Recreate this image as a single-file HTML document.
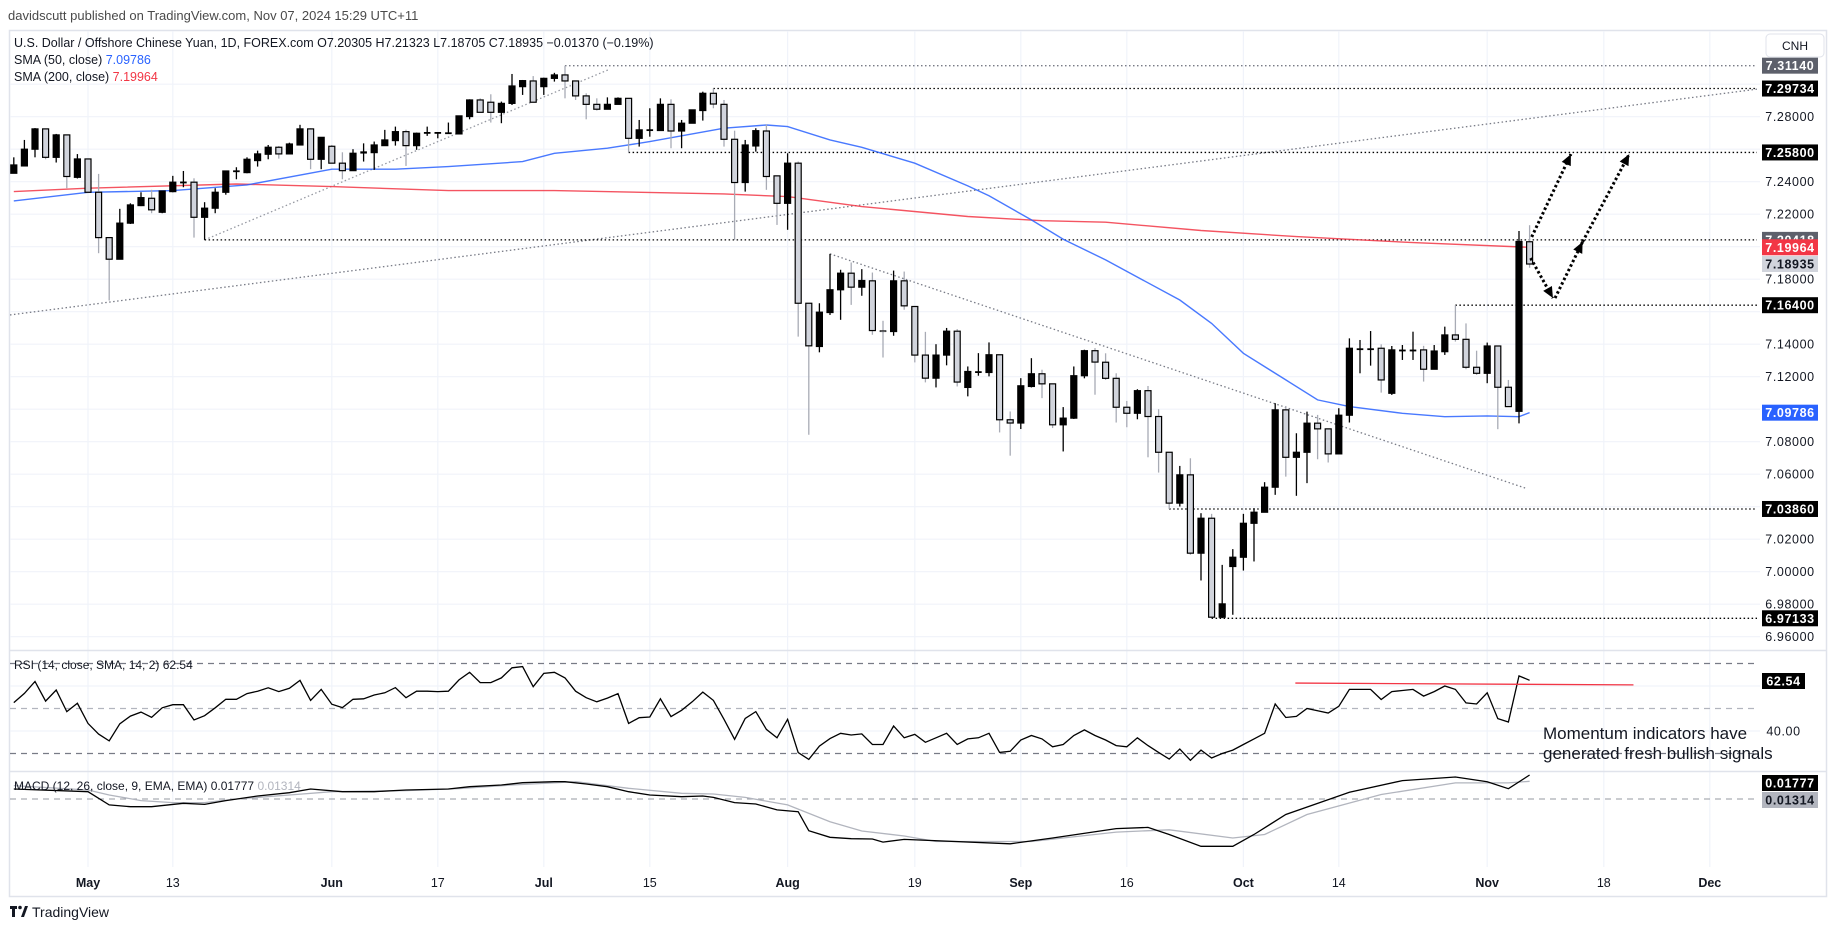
<!DOCTYPE html>
<html>
<head>
<meta charset="utf-8">
<style>
html,body{margin:0;padding:0;background:#fff;}
body{width:1835px;height:931px;overflow:hidden;font-family:"Liberation Sans",sans-serif;}
svg text{font-family:"Liberation Sans",sans-serif;}
</style>
</head>
<body>
<svg id="chart" width="1835" height="931" viewBox="0 0 1835 931" xmlns="http://www.w3.org/2000/svg">
  <defs>
    <clipPath id="mainClip"><rect x="10" y="31" width="1747" height="619"/></clipPath>
    <clipPath id="rsiClip"><rect x="10" y="651" width="1747" height="119"/></clipPath>
    <clipPath id="macdClip"><rect x="10" y="772" width="1747" height="95"/></clipPath>
  </defs>
  <text x="8" y="20" font-size="13" fill="#4a4a4a">davidscutt published on TradingView.com, Nov 07, 2024 15:29 UTC+11</text>
  <rect x="9.5" y="30.5" width="1817" height="866" fill="#fff" stroke="#e0e3eb" stroke-width="1.5"/>
  <g id="grid"></g>
  <g id="panes"></g>
  <g id="main" clip-path="url(#mainClip)"></g>
  <g id="rsi" clip-path="url(#rsiClip)"></g>
  <g id="macd" clip-path="url(#macdClip)"></g>
  <g id="axis"></g>
  <g id="timeaxis"></g>
  <g id="legend">
    <text x="14" y="47" font-size="12.5" fill="#131722">U.S. Dollar / Offshore Chinese Yuan, 1D, FOREX.com  O7.20305  H7.21323  L7.18705  C7.18935  −0.01370 (−0.19%)</text>
    <text x="14" y="64" font-size="12.5" fill="#131722">SMA (50, close) <tspan fill="#2962ff">7.09786</tspan></text>
    <text x="14" y="81" font-size="12.5" fill="#131722">SMA (200, close) <tspan fill="#f23645">7.19964</tspan></text>
    <text x="14" y="669" font-size="12" fill="#131722">RSI (14, close, SMA, 14, 2)  62.54</text>
    <text x="14" y="790" font-size="12" fill="#131722">MACD (12, 26, close, 9, EMA, EMA)  0.01777  <tspan fill="#b2b5be">0.01314</tspan></text>
  </g>
  <g>
    <text x="1543" y="739" font-size="17" fill="#131722">Momentum indicators have</text>
    <text x="1543" y="759" font-size="17" fill="#131722">generated fresh bullish signals</text>
  </g>
  <g>
    <rect x="1766" y="34" width="58" height="23" rx="4" fill="#fff" stroke="#e0e3eb"/>
    <text x="1795" y="50" font-size="12" fill="#131722" text-anchor="middle">CNH</text>
  </g>
  <g>
    <rect x="10" y="906" width="7" height="3" fill="#131722"/>
    <rect x="12" y="906" width="3" height="11" fill="#131722"/>
    <circle cx="20" cy="907.5" r="1.8" fill="#131722"/>
    <path d="M21 917 L25 906 L28 906 L24 917 Z" fill="#131722"/>
    <text x="32" y="917" font-size="14" fill="#131722">TradingView</text>
  </g>
</svg>
<script>
// ---- data ----
const startIndex = -7;
const opens  = [7.2452,7.2497,7.2600,7.2725,7.2550,7.2688,7.2427,7.2540,7.2335,7.2056,7.1923,7.2145,7.2253,7.2298,7.2212,7.2339,7.2397,7.2397,7.2181,7.2237,7.2335,7.2466,7.2456,7.2530,7.2569,7.2612,7.2571,7.2626,7.2725,7.2538,7.2618,7.2514,7.2468,7.2575,7.2579,7.2622,7.2653,7.2708,7.2622,7.2698,7.2704,7.2698,7.2694,7.2801,7.2903,7.2889,7.2827,7.2882,7.2985,7.3020,7.2985,7.3036,7.3057,7.3020,7.2928,7.2876,7.2846,7.2876,7.2913,7.2667,7.2719,7.2715,7.2876,7.2712,7.2760,7.2838,7.2944,7.2876,7.2661,7.2395,7.2620,7.2712,7.2436,7.2267,7.2514,7.1652,7.1386,7.1595,7.1735,7.1837,7.1751,7.1790,7.1484,7.1478,7.1790,7.1632,7.1333,7.1191,7.1333,7.1480,7.1134,7.1232,7.1226,7.1335,7.0935,7.0915,7.1140,7.1218,7.1156,7.0904,7.0945,7.1206,7.1360,7.1289,7.1190,7.1012,7.0975,7.1114,7.0955,7.0735,7.0422,7.0596,7.0114,7.0329,6.9720,7.0032,7.0089,7.0298,7.0366,7.0520,7.0996,7.0704,7.0735,7.0914,7.0879,7.0725,7.0963,7.1371,7.1371,7.1375,7.1098,7.1365,7.1365,7.1365,7.1246,7.1354,7.1457,7.1430,7.1258,7.1221,7.1389,7.1135,7.0987,7.20305];
const highs  = [7.2550,7.2657,7.2730,7.2725,7.2694,7.2688,7.2570,7.2540,7.2448,7.2056,7.2233,7.2267,7.2335,7.2350,7.2343,7.2436,7.2466,7.2421,7.2274,7.2360,7.2466,7.2489,7.2550,7.2591,7.2626,7.2620,7.2640,7.2750,7.2729,7.2673,7.2626,7.2581,7.2600,7.2636,7.2647,7.2719,7.2739,7.2720,7.2702,7.2739,7.2706,7.2764,7.2805,7.2907,7.2913,7.2938,7.2893,7.3063,7.3026,7.3050,7.3040,7.3070,7.3114,7.3020,7.2944,7.2913,7.2919,7.2919,7.2913,7.2780,7.2852,7.2913,7.2907,7.2780,7.2842,7.2954,7.2973,7.2903,7.2714,7.2657,7.2729,7.2753,7.2436,7.2575,7.2524,7.1652,7.1652,7.1956,7.1858,7.1903,7.1862,7.1841,7.1544,7.1853,7.1847,7.1632,7.1476,7.1400,7.1500,7.1493,7.1263,7.1345,7.1411,7.1335,7.0986,7.1191,7.1314,7.1243,7.1156,7.1013,7.1263,7.1366,7.1376,7.1344,7.1221,7.1051,7.1123,7.1143,7.1000,7.0735,7.0651,7.0698,7.0360,7.0356,7.0042,7.0139,7.0356,7.0391,7.0551,7.1037,7.1020,7.0852,7.0985,7.0965,7.0879,7.1006,7.1436,7.1426,7.1481,7.1399,7.1389,7.1395,7.1477,7.1390,7.1395,7.1508,7.1640,7.1528,7.1360,7.1410,7.1389,7.1180,7.2097,7.21323];
const lows   = [7.2452,7.2497,7.2550,7.2538,7.2518,7.2360,7.2420,7.2330,7.1960,7.1669,7.1923,7.2140,7.2250,7.2206,7.2206,7.2335,7.2366,7.2056,7.2042,7.2206,7.2320,7.2415,7.2452,7.2493,7.2538,7.2542,7.2568,7.2626,7.2477,7.2477,7.2514,7.2415,7.2468,7.2524,7.2473,7.2622,7.2622,7.2497,7.2596,7.2682,7.2667,7.2694,7.2694,7.2784,7.2827,7.2764,7.2760,7.2872,7.2934,7.2889,7.2934,7.3016,7.2913,7.2903,7.2784,7.2838,7.2846,7.2876,7.2580,7.2616,7.2677,7.2715,7.2606,7.2606,7.2760,7.2776,7.2852,7.2616,7.2042,7.2339,7.2585,7.2350,7.2134,7.2104,7.1447,7.0843,7.1350,7.1580,7.1550,7.1642,7.1698,7.1458,7.1318,7.1452,7.1612,7.1288,7.1165,7.1134,7.1270,7.1140,7.1079,7.1206,7.1202,7.0857,7.0714,7.0878,7.1134,7.1068,7.0884,7.0740,7.0940,7.1190,7.1089,7.1180,7.0918,7.0889,7.0938,7.0704,7.0610,7.0386,7.0401,7.0104,6.9946,6.9713,6.9714,6.9735,7.0007,7.0063,7.0366,7.0473,7.0585,7.0467,7.0545,7.0692,7.0672,7.0725,7.0918,7.1221,7.1268,7.1102,7.1088,7.1303,7.1303,7.1170,7.1246,7.1334,7.1416,7.1246,7.1211,7.1160,7.0877,7.1016,7.0913,7.18705];
const closes = [7.2503,7.2600,7.2725,7.2550,7.2688,7.2432,7.2540,7.2335,7.2056,7.1923,7.2145,7.2257,7.2302,7.2227,7.2343,7.2397,7.2399,7.2181,7.2237,7.2335,7.2466,7.2468,7.2538,7.2571,7.2612,7.2571,7.2632,7.2725,7.2538,7.2673,7.2514,7.2468,7.2575,7.2585,7.2626,7.2657,7.2708,7.2622,7.2698,7.2704,7.2704,7.2702,7.2805,7.2903,7.2827,7.2827,7.2882,7.2989,7.3022,7.2889,7.3036,7.3057,7.3020,7.2928,7.2876,7.2846,7.2876,7.2913,7.2667,7.2719,7.2721,7.2876,7.2712,7.2760,7.2842,7.2944,7.2878,7.2661,7.2395,7.2626,7.2714,7.2432,7.2267,7.2514,7.1652,7.1390,7.1597,7.1735,7.1837,7.1751,7.1792,7.1484,7.1478,7.1790,7.1636,7.1333,7.1191,7.1333,7.1480,7.1167,7.1232,7.1232,7.1335,7.0935,7.0915,7.1144,7.1218,7.1156,7.0904,7.0945,7.1206,7.1360,7.1290,7.1190,7.1012,7.0975,7.1114,7.0955,7.0735,7.0422,7.0596,7.0114,7.0329,6.9720,6.9802,7.0089,7.0298,7.0366,7.0520,7.0996,7.0704,7.0735,7.0914,7.0879,7.0725,7.0963,7.1375,7.1373,7.1373,7.1180,7.1365,7.1365,7.1365,7.1246,7.1358,7.1457,7.1430,7.1258,7.1221,7.1389,7.1135,7.1016,7.2032,7.18935];
const sma50Idx = [-7,0,8,15,23,29,34,41,44,49,53,60,64,66,70,73,78,83,85,89,92,96,103,106,109,113,116,119,124,128,132,135,136];
const sma50Val = [7.2282,7.2335,7.2345,7.2380,7.2477,7.2477,7.2493,7.2524,7.2575,7.2606,7.2647,7.2729,7.2749,7.2739,7.2657,7.2612,7.2514,7.2374,7.2313,7.2165,7.2046,7.1919,7.1672,7.1528,7.1344,7.1180,7.1057,7.1016,7.0975,7.0954,7.0959,7.0954,7.0979];
const sma200Idx = [-7,0,14,23,34,44,60,66,73,83,90,96,105,114,125,136];
const sma200Val = [7.2339,7.2360,7.2386,7.2370,7.2345,7.2345,7.2325,7.2308,7.2247,7.2186,7.2160,7.2151,7.2100,7.2062,7.2025,7.1996];
const rsiVals = [52.6,56.7,62,53.3,58.2,48.6,52.3,43.4,38.6,35.6,43.2,46.6,48.4,46.1,50.3,51.7,51.7,44.9,46.8,50.3,54.1,54.1,56.6,57.7,59.2,57.5,59,62.5,53.6,58.5,51.9,50.4,54.1,54.3,56,57,59.3,54.8,57.7,57.7,57.5,57.7,62.7,66.1,61.5,61.5,63.6,68.1,68.6,59.7,65.6,66.1,63.6,57.7,54.8,53,54.6,56.6,43.4,45.9,46.2,54.3,46.4,49.2,53,57.3,53.6,45.2,36.3,45.6,48.6,40.7,37,45.2,30.4,27.4,33.3,36.6,39,38.2,38.7,34,34,42.2,37,38.5,35,37,39,34,36.5,37,39,30.5,31,36,38,36.5,33,34,38,40.5,38,36,33.5,33,37,33.5,30.5,27.5,32,27,31.5,28,30,31.5,34,36.5,39,52,46,46.5,50,49,48,51,58.5,58.5,58.5,54,57.5,58,58.5,55.5,57.5,60,58.5,52.5,52,57,45.5,44,64.5,62.54];
const macdIdx = [-7,0,2,4,6,9,11,13,16,19,21,24,27,30,34,36,39,41,44,45,47,49,51,53,56,58,59,61,63,65,67,68,70,72,74,75,77,87,91,97,100,102,105,108,110,113,119,124,129,132,134,136];
const macdVal = [0.0074,0.0054,-0.0044,-0.0057,-0.0057,-0.0032,-0.0040,-0.0012,0.0022,0.0047,0.0074,0.0054,0.0054,0.0067,0.0074,0.0091,0.0104,0.0121,0.0128,0.0128,0.0111,0.0091,0.0054,0.0030,0.0017,0.0022,0.0012,-0.0027,-0.0037,-0.0081,-0.0094,-0.0235,-0.0284,-0.0294,-0.0296,-0.0319,-0.0299,-0.0332,-0.0289,-0.0219,-0.0210,-0.0263,-0.0350,-0.0350,-0.0263,-0.0115,0.0050,0.0136,0.0163,0.0128,0.0076,0.0178];
const signalIdx = [-7,0,2,5,8,11,14,19,23,30,35,40,46,51,56,59,62,66,70,73,77,80,89,97,102,108,111,115,122,129,134,136];
const signalVal = [0.0099,0.0067,0.0030,-0.0012,-0.0027,-0.0027,0.0000,0.0030,0.0054,0.0062,0.0077,0.0104,0.0128,0.0079,0.0042,0.0037,0.0012,-0.0044,-0.0168,-0.0237,-0.0274,-0.0315,-0.0315,-0.0245,-0.0228,-0.0289,-0.0263,-0.0115,0.0033,0.0119,0.0119,0.0131];
const priceTicks = [7.28,7.24,7.22,7.18,7.14,7.12,7.08,7.06,7.02,7.00,6.98,6.96];
const gridPrices = [7.30,7.28,7.26,7.24,7.22,7.20,7.18,7.16,7.14,7.12,7.10,7.08,7.06,7.04,7.02,7.00,6.98,6.96];
const timeLabels = ["May","13","Jun","17","Jul","15","Aug","19","Sep","16","Oct","14","Nov","18","Dec"];
const timeIdx = [0,8,23,33,43,53,66,78,88,98,109,118,132,143,153];
const timeIsMonth = [true,false,true,false,true,false,true,false,true,false,true,false,true,false,true];
const levelPrices = [7.3114,7.29734,7.258,7.2042,7.164,7.0386,6.97133];
const levelStart = [45,59,51,11,129,102,106];
const priceLabels = ["7.31140","7.29734","7.25800","7.20418","7.19964","7.18935","7.16400","7.09786","7.03860","6.97133"];
const priceLabelVals = [7.3114,7.29734,7.258,7.2042,7.19964,7.18935,7.164,7.09786,7.0386,6.97133];
const priceLabelBg = ["#5d606b","#000","#000","#5d606b","#f23645","#d1d4dc","#000","#2962ff","#000","#000"];
const priceLabelFg = ["#fff","#fff","#fff","#fff","#fff","#131722","#fff","#fff","#fff","#fff"];

// ---- scales ----
const NS = "http://www.w3.org/2000/svg";
const X = i => 88 + 10.6 * i;
const YP = p => 246.7 - (p - 7.2) * 1625;
const YR = v => 708.5 - (v - 50) * 2.25;
const YM = v => 799 - v * 1350;
function mk(parent, tag, attrs) {
  const e = document.createElementNS(NS, tag);
  for (const k in attrs) e.setAttribute(k, attrs[k]);
  parent.appendChild(e);
  return e;
}
const gGrid = document.getElementById('grid');
const gMain = document.getElementById('main');
const gRsi = document.getElementById('rsi');
const gMacd = document.getElementById('macd');
const gAxis = document.getElementById('axis');
const gTime = document.getElementById('timeaxis');
const gPanes = document.getElementById('panes');

// grid
gridPrices.forEach(p => {
  const l = mk(gGrid, 'line', {x1: 10, x2: 1760, y1: YP(p), y2: YP(p), stroke: '#f0f3fa', 'stroke-width': 1.2});
  
  
});
[60, 40].forEach(v => {
  const l = mk(gGrid, 'line', {x1: 10, x2: 1760, y1: YR(v), y2: YR(v), stroke: '#f0f3fa', 'stroke-width': 1.2});
  
  
});
timeIdx.forEach((ti, k) => {
  const l = mk(gGrid, 'line', {x1: X(ti), x2: X(ti), y1: 31, y2: 867, stroke: '#f0f3fa', 'stroke-width': 1.2});
  
  
  const t = mk(gTime, 'text', {x: X(ti), y: 887, 'font-size': 12.5, 'text-anchor': 'middle', fill: '#131722', 'font-weight': timeIsMonth[k] ? 'bold' : 'normal'});
  t.textContent = timeLabels[k];
  
  
});
[650.5, 771.5].forEach(y => {
  const l = mk(gPanes, 'line', {x1: 10, x2: 1826, y1: y, y2: y, stroke: '#e0e3eb', 'stroke-width': 1.5});
  
  
});

// trend lines
function tline(i1, p1, i2, p2, color, name) {
  const l = mk(gMain, 'line', {x1: X(i1), y1: YP(p1), x2: X(i2), y2: YP(p2), stroke: color, 'stroke-width': 1.3, 'stroke-dasharray': '1.5 2.5'});
  
  
}
tline(-7.36, 7.158, 157.5, 7.297, '#787b86', 'long-support-trendline');
tline(11, 7.2042, 49.06, 7.3088, '#9598a1', 'short-rising-trendline');
tline(70, 7.1956, 135.8, 7.0510, '#787b86', 'falling-resistance-trendline');
levelPrices.forEach((p, k) => {
  const l = mk(gMain, 'line', {x1: X(levelStart[k]), y1: YP(p), x2: 1760, y2: YP(p), stroke: k === 0 ? '#787b86' : '#000', 'stroke-width': 1.3, 'stroke-dasharray': '1.5 2.5'});
  
  
});

// SMA lines
function polyFrom(idx, vals, yf) { return idx.map((ii, k) => X(ii).toFixed(1) + ',' + yf(vals[k]).toFixed(1)).join(' '); }
const s200 = mk(gMain, 'polyline', {points: polyFrom(sma200Idx, sma200Val, YP), fill: 'none', stroke: '#f23645', 'stroke-width': 1.4, 'stroke-opacity': 0.85});


const s50 = mk(gMain, 'polyline', {points: polyFrom(sma50Idx, sma50Val, YP), fill: 'none', stroke: '#2962ff', 'stroke-width': 1.4, 'stroke-opacity': 0.85});



// candles
closes.forEach((c, k) => {
  const i = startIndex + k;
  const o = opens[k], h = highs[k], lo = lows[k];
  const up = c >= o;
  const cx = X(i);
  const g = mk(gMain, 'g', {});
  
  
  mk(g, 'line', {x1: cx, x2: cx, y1: YP(h), y2: YP(lo), stroke: up ? '#000' : '#a8abb5', 'stroke-width': 1.3});
  const top = YP(Math.max(o, c)), bot = YP(Math.min(o, c));
  const hgt = Math.max(bot - top, 1.2);
  mk(g, 'rect', {x: cx - 3, y: top, width: 6, height: hgt, fill: up ? '#000' : '#d1d4dc', stroke: '#000', 'stroke-width': hgt > 2 ? 1.2 : 0.6});
});

// scenario arrows
function arrow(i1, p1, i2, p2, name) {
  const x1 = X(i1), y1 = YP(p1), x2 = X(i2), y2 = YP(p2);
  const l = mk(gMain, 'line', {x1: x1, y1: y1, x2: x2, y2: y2, stroke: '#000', 'stroke-width': 3, 'stroke-dasharray': '2.5 2.5'});
  
  
  const a = Math.atan2(y2 - y1, x2 - x1), L = 11, W = 5;
  const bx = x2 - L * Math.cos(a), by = y2 - L * Math.sin(a);
  const pts = [x2 + ',' + y2, (bx + W * Math.sin(a)) + ',' + (by - W * Math.cos(a)), (bx - W * Math.sin(a)) + ',' + (by + W * Math.cos(a))].join(' ');
  const hd = mk(gMain, 'polygon', {points: pts, fill: '#000'});
  
  
}
arrow(136.2, 7.206, 139.9, 7.257, 'bullish-scenario-arrow');
arrow(136.1, 7.193, 138.2, 7.1684, 'pullback-arrow');
arrow(138.4, 7.1684, 141.0, 7.203, 'rebound-arrow');
arrow(141.0, 7.203, 145.4, 7.257, 'rebound-continuation-arrow');

// RSI
[[70, '#787b86'], [50, '#b2b5be'], [30, '#787b86']].forEach(([v, col]) => {
  const l = mk(gRsi, 'line', {x1: 10, x2: 1760, y1: YR(v), y2: YR(v), stroke: col, 'stroke-width': 1.2, 'stroke-dasharray': '6 5'});
  
  
});
const rsiLine = mk(gRsi, 'polyline', {points: rsiVals.map((v, k) => X(startIndex + k).toFixed(1) + ',' + YR(v).toFixed(1)).join(' '), fill: 'none', stroke: '#000', 'stroke-width': 1.3});


const rsiRes = mk(gRsi, 'line', {x1: X(113.9), y1: YR(61.3), x2: X(145.8), y2: YR(60.5), stroke: '#f23645', 'stroke-width': 1.3});



// MACD
const mz = mk(gMacd, 'line', {x1: 10, x2: 1760, y1: YM(0), y2: YM(0), stroke: '#9598a1', 'stroke-width': 1.1, 'stroke-dasharray': '6 5'});


const sig = mk(gMacd, 'polyline', {points: polyFrom(signalIdx, signalVal, YM), fill: 'none', stroke: '#b2b5be', 'stroke-width': 1.3});


const mac = mk(gMacd, 'polyline', {points: polyFrom(macdIdx, macdVal, YM), fill: 'none', stroke: '#000', 'stroke-width': 1.3});



// price axis
priceTicks.forEach(p => {
  const t = mk(gAxis, 'text', {x: 1790, y: YP(p) + 4.5, 'font-size': 12.5, 'text-anchor': 'middle', fill: '#131722', 'letter-spacing': 0.6});
  t.textContent = p.toFixed(5);
  
  
});
priceLabels.forEach((s, k) => {
  const y = YP(priceLabelVals[k]);
  const g = mk(gAxis, 'g', {});
  
  
  mk(g, 'rect', {x: 1762, y: y - 8, width: 56, height: 16, fill: priceLabelBg[k]});
  const t = mk(g, 'text', {x: 1790, y: y + 4.5, 'font-size': 12.5, 'text-anchor': 'middle', fill: priceLabelFg[k], 'font-weight': 'bold', 'letter-spacing': 0.6});
  t.textContent = s;
});
function axisBox(y, text, bg, fg, w, name) {
  const g = mk(gAxis, 'g', {});
  
  
  if (bg) mk(g, 'rect', {x: 1762, y: y - 8, width: w, height: 16, fill: bg});
  const t = mk(g, 'text', {x: 1762 + w / 2, y: y + 4.5, 'font-size': 12.5, 'text-anchor': 'middle', fill: fg, 'font-weight': bg ? 'bold' : 'normal', 'letter-spacing': 0.6});
  t.textContent = text;
}
axisBox(681, '62.54', '#000', '#fff', 43, 'rsi-value-label');
axisBox(YR(40), '40.00', null, '#131722', 43, 'rsi-tick-40');
axisBox(783, '0.01777', '#000', '#fff', 56, 'macd-value-label');
axisBox(800, '0.01314', '#b2b5be', '#131722', 56, 'signal-value-label');
</script>
</body>
</html>
